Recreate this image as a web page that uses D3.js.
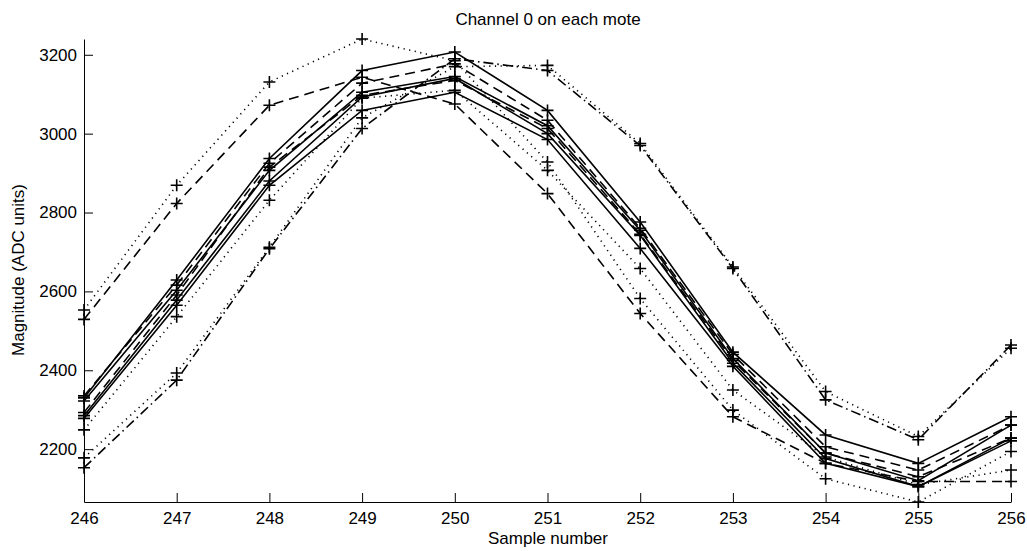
<!DOCTYPE html>
<html>
<head>
<meta charset="utf-8">
<script src="https://cdn.jsdelivr.net/npm/d3@7"></script>
<style>
  html, body { margin: 0; padding: 0; background: #fff; }
  svg { display: block; font-family: "Liberation Sans", Arial, Helvetica, sans-serif; }
</style>
</head>
<body>
<svg id="chart" width="1027" height="551"></svg>
<script>
// ---- data ----
const samples = [246, 247, 248, 249, 250, 251, 252, 253, 254, 255, 256];
const xTicks = [246, 247, 248, 249, 250, 251, 252, 253, 254, 255, 256];
const yTicks = [2200, 2400, 2600, 2800, 3000, 3200];

const mote1  = [2330, 2629, 2937, 3160, 3207, 3059, 2776, 2446, 2236, 2164, 2282];
const mote2  = [2322, 2603, 2907, 3105, 3145, 3020, 2755, 2430, 2190, 2120, 2261];
const mote3  = [2285, 2578, 2880, 3093, 3140, 3000, 2742, 2418, 2176, 2105, 2228];
const mote4  = [2278, 2565, 2869, 3059, 3105, 2985, 2709, 2410, 2164, 2105, 2221];
const mote5  = [2335, 2616, 2925, 3128, 3177, 3034, 2760, 2440, 2206, 2147, 2261];
const mote6  = [2293, 2591, 2915, 3097, 3135, 3013, 2745, 2425, 2190, 2130, 2228];
const mote7  = [2249, 2536, 2831, 3090, 3110, 2907, 2658, 2350, 2180, 2110, 2147];
const mote8  = [2553, 2869, 3131, 3240, 3185, 2928, 2582, 2299, 2125, 2066, 2194];
const mote9  = [2529, 2823, 3072, 3143, 3075, 2848, 2544, 2282, 2164, 2118, 2118];
const mote10 = [2153, 2375, 2708, 3013, 3190, 3160, 2970, 2658, 2325, 2224, 2464];
const mote11 = [2178, 2393, 2712, 3040, 3170, 3173, 2975, 2662, 2346, 2232, 2456];

const seriesValues = [mote1, mote2, mote3, mote4, mote5, mote6, mote7, mote8, mote9, mote10, mote11];
const seriesStyles = ["solid", "solid", "solid", "solid", "dashed", "dashed", "dotted", "dotted", "dashed", "dashdot", "dotted"];

const titleText = "Channel 0 on each mote";
const xLabelText = "Sample number";
const yLabelText = "Magnitude (ADC units)";

// ---- layout ----
const svg = d3.select("#chart");
const fontSize = 17;
const allVals = seriesValues.flat();
const x = d3.scaleLinear().domain(d3.extent(samples)).range([84, 1011]);
const y = d3.scaleLinear().domain(d3.extent(allVals)).range([502, 39]);

const dash = {
  solid: null,
  dashed: "10,6",
  dotted: "1.2,4.5",
  dashdot: "10,4,1.5,4"
};

// axes
const xAxis = d3.axisBottom(x).tickValues(xTicks).tickFormat(d3.format("d"))
  .tickSize(-9).tickSizeOuter(0).tickPadding(10);
const yAxis = d3.axisLeft(y).tickValues(yTicks).tickFormat(d3.format("d"))
  .tickSize(-9).tickSizeOuter(0).tickPadding(7);

const gx = svg.append("g").attr("transform", `translate(0,${y.range()[0]})`).call(xAxis);
const gy = svg.append("g").attr("transform", `translate(${x.range()[0]},0)`).call(yAxis);
[gx, gy].forEach(g => {
  g.selectAll("path.domain").attr("stroke", "#000").attr("stroke-width", 1);
  g.selectAll(".tick line").attr("stroke", "#000").attr("stroke-width", 1);
  g.selectAll(".tick text").attr("fill", "#000").style("font-size", fontSize + "px")
    .style("font-family", '"Liberation Sans", Arial, Helvetica, sans-serif');
});

// lines
const line = d3.line().x((d, i) => x(samples[i])).y(d => y(d));
const plot = svg.append("g");
seriesValues.forEach((vals, si) => {
  plot.append("path")
    .datum(vals)
    .attr("d", line)
    .attr("fill", "none")
    .attr("stroke", "#000")
    .attr("stroke-width", 1.6)
    .attr("stroke-dasharray", dash[seriesStyles[si]]);
});
// markers
seriesValues.forEach(vals => {
  plot.selectAll(null)
    .data(vals)
    .enter()
    .append("path")
    .attr("transform", (d, i) => `translate(${x(samples[i])},${y(d)})`)
    .attr("d", "M-6,0H6M0,-6V6")
    .attr("stroke", "#000")
    .attr("stroke-width", 1.6)
    .attr("fill", "none");
});

// texts
svg.append("text").attr("x", 548).attr("y", 25).attr("text-anchor", "middle")
  .style("font-size", fontSize + "px").text(titleText);
svg.append("text").attr("x", 548).attr("y", 544).attr("text-anchor", "middle")
  .style("font-size", fontSize + "px").text(xLabelText);
svg.append("text").attr("transform", "translate(24,270) rotate(-90)").attr("text-anchor", "middle")
  .style("font-size", fontSize + "px").text(yLabelText);
</script>
</body>
</html>
